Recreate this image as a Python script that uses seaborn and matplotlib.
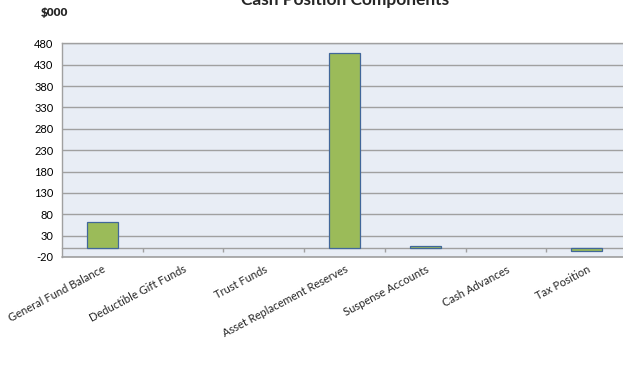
import matplotlib
matplotlib.use("Agg")
import matplotlib.pyplot as plt
import numpy as np
import pandas as pd
import seaborn as sns

# Cash position components, in $000
categories = [
    "General Fund Balance",
    "Deductible Gift Funds",
    "Trust Funds",
    "Asset Replacement Reserves",
    "Suspense Accounts",
    "Cash Advances",
    "Tax Position",
]
values = [61, 0, 0, 457, 5, 0, -7]
y_ticks = [-20, 30, 80, 130, 180, 230, 280, 330, 380, 430, 480]

df = pd.DataFrame({"component": categories, "amount": values})

sns.set_theme(style="white")
plt.rcParams["font.family"] = ["Lato", "DejaVu Sans"]

fig = plt.figure(figsize=(6.23, 3.65), dpi=100)
ax = fig.add_axes([0.0995, 0.296, 0.907, 0.585])
ax.set_facecolor("#e8edf5")

grid_col = "#a0a0a0"
sns.barplot(data=df, x="component", y="amount", ax=ax, color="#9bbb59",
            width=0.39, edgecolor="#41679a", linewidth=0.9, saturation=1,
            zorder=3)
# empty components get no visible outline
for patch in ax.patches:
    if patch.get_height() == 0:
        patch.set_visible(False)

ax.set_xlim(-0.5, len(categories) - 0.5)
ax.set_ylim(y_ticks[0], y_ticks[-1])
ax.set_yticks(y_ticks)
ax.set_yticklabels([str(v) for v in y_ticks], fontsize=8, color="#000000")
ax.yaxis.grid(True, color=grid_col, linewidth=1.0, zorder=0)
ax.tick_params(axis="y", length=0, pad=6)
ax.set_axisbelow(True)

# baseline at zero with category boundary ticks
ax.spines["bottom"].set_position(("data", 0))
ax.spines["bottom"].set_color(grid_col)
ax.spines["bottom"].set_linewidth(1.0)
ax.spines["bottom"].set_zorder(2)
ax.set_xticks(np.arange(len(categories) - 1) + 0.5)
ax.set_xticklabels([])
ax.tick_params(axis="x", which="major", direction="out", length=3,
               color=grid_col, width=1.0, bottom=True)
ax.set_xticks(np.arange(len(categories)), minor=True)
ax.set_xticklabels(categories, minor=True, fontsize=8, rotation=28,
                   ha="right", rotation_mode="anchor")
ax.tick_params(axis="x", which="minor", length=0, pad=11)
ax.set_xlabel("")
ax.set_ylabel("")

for side in ["left", "top"]:
    ax.spines[side].set_color(grid_col)
    ax.spines[side].set_linewidth(1.0)
ax.spines["right"].set_visible(False)
# lower frame edge of the plot area
ax.axhline(ax.get_ylim()[0], color=grid_col, linewidth=1.2, clip_on=False,
           zorder=2)

fig.text(0.554, 0.985, "Cash Position Components", ha="center",
         va="baseline", fontsize=12.5, fontweight="bold")
fig.text(0.066, 0.955, "\\$000", ha="left", va="baseline", fontsize=8.5,
         fontweight="heavy")

fig.savefig("out.png", dpi=100)
